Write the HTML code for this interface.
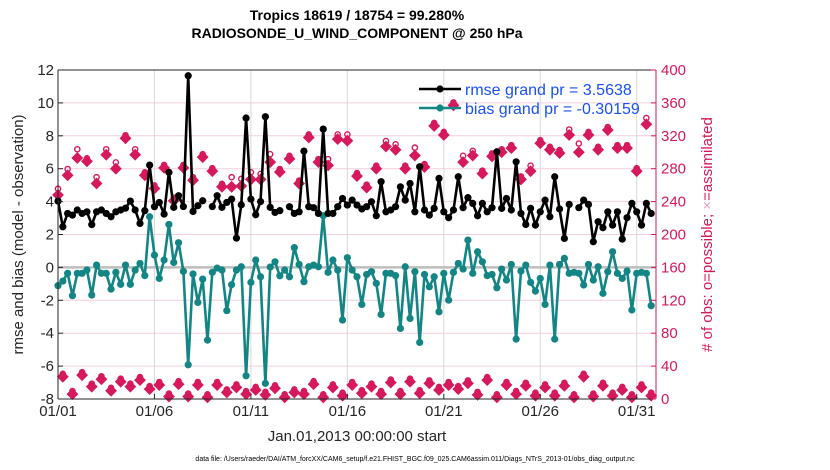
<!DOCTYPE html>
<html><head><meta charset="utf-8"><style>
html,body{margin:0;padding:0;background:#fff;}
svg{display:block;font-family:"Liberation Sans",sans-serif;}
</style></head><body>
<svg id="chart" width="830" height="470" viewBox="0 0 830 470"></svg>
<script>
const rmse=[4.03,2.47,3.28,3.18,3.49,3.28,3.38,2.6,3.38,3.49,3.28,3.08,3.38,3.49,3.6,4.03,3.49,2.67,3.45,6.22,3.69,3.95,3.24,5.78,3.65,4.36,3.7,11.65,3.4,3.75,4.05,null,3.7,4.36,3.65,3.95,4.15,1.78,3.8,9.08,4.15,3.2,4.0,9.16,3.65,3.34,3.45,null,3.69,3.28,3.38,7.07,3.69,3.63,3.28,8.41,3.28,3.28,3.69,4.19,3.79,4.09,3.79,3.55,3.69,3.99,3.14,5.21,3.38,3.49,3.69,4.9,4.09,5.1,3.38,6.12,3.49,3.18,3.59,5.41,3.38,3.02,3.49,5.51,3.63,4.24,3.89,3.14,3.89,3.38,3.63,7.03,3.59,4.19,3.49,6.42,3.28,2.61,3.59,2.57,3.38,4.09,3.08,5.51,3.55,1.76,3.83,null,3.63,4.09,3.83,1.56,2.78,2.41,3.38,2.57,3.38,1.72,3.02,3.89,3.38,2.57,3.89,3.28];
const bias=[-1.11,-0.83,-0.36,-1.72,-0.36,-0.36,-0.16,-1.68,0.14,-0.36,-0.36,-1.32,-0.3,-1.03,0.14,-1.03,-0.16,0.24,-0.5,3.08,0.75,-0.67,0.45,2.61,0.3,1.5,-0.24,-5.92,-0.4,-2.13,-0.71,-4.42,-0.3,-0.04,-0.16,-2.63,-1.05,-0.16,0.04,-6.59,-0.91,0.45,-0.57,-7.05,0.02,0.34,-0.51,-0.16,-0.57,1.2,0.18,-0.87,0.04,0.14,0.04,3.14,-0.3,0.45,-0.16,-3.2,0.59,-0.16,-0.57,-2.25,-0.43,-0.26,-0.97,-2.86,-0.36,-0.36,-0.5,-3.71,0.04,-3.1,-0.26,-4.56,-0.43,-1.18,-0.57,-2.7,-0.36,-1.99,-0.3,0.24,-0.1,1.66,-0.36,0.95,0.34,-0.5,-0.43,-1.24,-0.1,-0.77,0.18,-4.36,-0.22,0.14,-0.91,-1.44,-0.67,-2.25,0.14,-4.36,0.18,0.55,-0.36,-0.3,-0.36,-1.07,0.18,-0.77,0.04,-1.58,-0.26,0.95,-0.36,-0.67,-0.22,-2.59,-0.36,-0.3,-0.36,-2.33];
const assimilated=[248,27,272,6,293,29,289,15,262,24,297,10,280,21,317,15,297,23,272,12,256,17,281,3,241,18,281,3,266,17,294,2,277,17,258,8,258,14,259,6,267,11,267,5,288,13,276,2,292,8,262,6,318,18,288,2,284,14,316,4,314,17,271,7,257,15,280,6,307,20,303,6,280,21,296,7,282,19,332,11,321,17,357,12,288,19,296,5,274,23,295,2,300,17,305,6,267,16,277,4,311,14,303,4,299,16,321,2,300,27,321,3,303,16,327,4,305,11,305,2,277,14,334,4];
const possible=[252,27,276,6,300,29,289,15,266,24,300,10,284,21,317,15,300,23,272,12,256,17,281,3,241,18,281,3,266,17,294,2,277,17,258,8,266,14,264,6,272,11,270,5,294,13,276,2,292,8,262,6,318,18,288,2,288,14,318,4,318,17,271,7,257,15,280,6,310,20,306,6,280,21,302,7,282,19,332,11,321,17,357,12,292,19,298,5,274,23,295,2,300,17,305,6,267,16,280,4,311,14,303,4,299,16,324,2,307,27,321,3,303,16,327,4,305,11,305,2,277,14,338,4];
const leftTicks=[-8,-6,-4,-2,0,2,4,6,8,10,12];
const rightTicks=[0,40,80,120,160,200,240,280,320,360,400];
const dateTicks=[0,5,10,15,20,25,30];
const dateLabels=["01/01","01/06","01/11","01/16","01/21","01/26","01/31"];
const stepDays=0.25;

const NS="http://www.w3.org/2000/svg";
const svg=document.getElementById('chart');
const L=58,R=656,T=70,B=399;
const xs=t=>L+t*(R-L)/31;
const ys=v=>T+(12-v)*(B-T)/20;
const yr=c=>B-c*(B-T)/400;
const PINK="#d6185c",TEAL="#138585";
function el(tag,attrs,parent){const e=document.createElementNS(NS,tag);for(const k in attrs)e.setAttribute(k,attrs[k]);(parent||svg).appendChild(e);return e;}
function txt(s,attrs,parent){const e=el('text',attrs,parent);e.textContent=s;return e;}

// title
let t1=txt("Tropics 18619 / 18754 = 99.280%",{x:357,y:20,'text-anchor':'middle','font-size':14,'font-weight':'bold'});


let t2=txt("RADIOSONDE_U_WIND_COMPONENT @ 250 hPa",{x:357,y:38,'text-anchor':'middle','font-size':14,'font-weight':'bold'});



// grid
const grid=el('g',{});


rightTicks.forEach(c=>{const g=el('line',{x1:L,x2:R,y1:yr(c),y2:yr(c),stroke:'#f3cfdd','stroke-width':1},grid);});
dateTicks.forEach(d=>{const g=el('line',{x1:xs(d),x2:xs(d),y1:T,y2:B,stroke:'#d8d8d8','stroke-width':1},grid);});
const zl=el('line',{x1:L,x2:R,y1:ys(0),y2:ys(0),stroke:'#bdbdbd','stroke-width':2.5});



// obs markers
const obs=el('g',{});


possible.forEach((c,i)=>{if(c==null)return;const x=xs(i*stepDays),y=yr(c);
  const o=el('circle',{cx:x,cy:y-3,r:2.6,fill:'none',stroke:PINK,'stroke-width':1.4},obs);
  
  });
assimilated.forEach((c,i)=>{if(c==null)return;const x=xs(i*stepDays),y=yr(c);
  const m=el('path',{d:`M${x} ${y-5.5}L${x+5.5} ${y}L${x} ${y+5.5}L${x-5.5} ${y}Z`,fill:PINK,stroke:PINK,'stroke-width':0.6},obs);
  
  });

function series(arr,color,name){
  const g=el('g',{});
  
  
  let d='',pen=false;
  arr.forEach((v,i)=>{if(v==null){pen=false;return;}d+=(pen?'L':'M')+xs(i*stepDays).toFixed(1)+' '+ys(v).toFixed(1);pen=true;});
  const p=el('path',{d:d,fill:'none',stroke:color,'stroke-width':2.6,'stroke-linejoin':'round'},g);
  
  
  arr.forEach((v,i)=>{if(v==null)return;const c=el('circle',{cx:xs(i*stepDays),cy:ys(v),r:3.6,fill:color},g);
    
    });
}
series(bias,TEAL,'bias-series');
series(rmse,'#000','rmse-series');

// axes
const ax=el('g',{});


el('line',{x1:L,x2:R,y1:T,y2:T,stroke:'#262626','stroke-width':1},ax);
el('line',{x1:L,x2:R,y1:B,y2:B,stroke:'#262626','stroke-width':1},ax);
el('line',{x1:L,x2:L,y1:T,y2:B,stroke:'#262626','stroke-width':1},ax);
el('line',{x1:R,x2:R,y1:T,y2:B,stroke:PINK,'stroke-width':1},ax);
leftTicks.forEach(v=>{el('line',{x1:L,x2:L+5,y1:ys(v),y2:ys(v),stroke:'#262626'},ax);
  const tl=txt(String(v),{x:L-4,y:ys(v)+5,'text-anchor':'end','font-size':15,fill:'#262626'},ax);
  
  });
rightTicks.forEach(c=>{el('line',{x1:R-5,x2:R,y1:yr(c),y2:yr(c),stroke:PINK},ax);
  const tl=txt(String(c),{x:R+5,y:yr(c)+5,'font-size':15,fill:PINK},ax);
  
  });
dateTicks.forEach((d,k)=>{el('line',{x1:xs(d),x2:xs(d),y1:B,y2:B-5,stroke:'#262626'},ax);
  const tl=txt(dateLabels[k],{x:xs(d),y:416,'text-anchor':'middle','font-size':15,fill:'#262626'},ax);
  
  });

let yt=txt("rmse and bias (model - observation)",{x:0,y:0,'text-anchor':'middle','font-size':15,fill:'#262626',transform:`translate(23,${(T+B)/2}) rotate(-90)`});


let rt=el('text',{x:0,y:0,'text-anchor':'middle','font-size':15,fill:PINK,transform:`translate(712,${(T+B)/2}) rotate(-90)`});
rt.innerHTML='# of obs: o=possible; <tspan fill="#eaa0bc">×</tspan>=assimilated';


let xt=txt("Jan.01,2013 00:00:00 start",{x:357,y:441,'text-anchor':'middle','font-size':15,fill:'#262626'});


let fn=txt("data file: /Users/raeder/DAI/ATM_forcXX/CAM6_setup/f.e21.FHIST_BGC.f09_025.CAM6assim.011/Diags_NTrS_2013-01/obs_diag_output.nc",{x:415,y:461,'text-anchor':'middle','font-size':7,fill:'#000'});



// legend
const lg=el('g',{});


const l1=el('g',{},lg);


el('line',{x1:419,x2:461,y1:89,y2:89,stroke:'#000','stroke-width':2.6},l1);
el('circle',{cx:440,cy:89,r:3.6,fill:'#000'},l1);
txt("rmse grand pr = 3.5638",{x:465,y:95,'font-size':16,fill:'#1a50f0'},l1);
const l2=el('g',{},lg);


el('line',{x1:419,x2:461,y1:108,y2:108,stroke:TEAL,'stroke-width':2.6},l2);
el('circle',{cx:440,cy:108,r:3.6,fill:TEAL},l2);
txt("bias grand pr = -0.30159",{x:465,y:114,'font-size':16,fill:'#1a50f0'},l2);
</script>
</body></html>
